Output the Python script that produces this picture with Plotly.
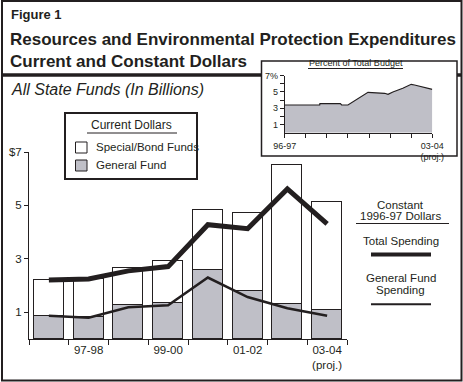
import plotly.graph_objects as go

# ---------------- data ----------------
years = ["96-97", "97-98", "98-99", "99-00", "00-01", "01-02", "02-03", "03-04"]
general_fund_current = [0.85, 0.81, 1.26, 1.35, 2.57, 1.79, 1.30, 1.07]
special_bond_current = [1.35, 1.42, 1.39, 1.56, 2.25, 2.92, 5.20, 4.05]
total_constant = [2.21, 2.25, 2.55, 2.71, 4.28, 4.13, 5.62, 4.31]
general_fund_constant = [0.87, 0.80, 1.19, 1.26, 2.30, 1.57, 1.15, 0.87]

# inset: percent of total budget (position in fiscal years from 96-97)
inset_pos = [0, 1.66, 1.67, 2.64, 2.70, 3.0, 3.95, 4.31, 4.74, 4.90, 5.13, 5.60, 6.0, 6.16, 6.63, 7.0]
inset_pct = [3.40, 3.40, 3.57, 3.57, 3.40, 3.40, 4.96, 4.88, 4.84, 4.71, 5.0, 5.45, 5.94, 5.86, 5.57, 5.33]

main_tick_years = ["97-98", "99-00", "01-02", "03-04"]
main_tick_labels = ["97-98", "99-00", "01-02", "03-04<br>(proj.)"]
y_tick_vals = [1, 3, 5, 7]
y_tick_text = ["1", "3", "5", "$7"]
inset_y_text = ["1", "3", "5", "7%"]

# ---------------- style ----------------
W, H = 463, 382
INK = "#231f20"
GRAY = "#bfbfc7"
FONT = "Liberation Sans, Arial, Helvetica, sans-serif"


def X(px):
    return px / W


def Y(py):
    return 1 - py / H


idx = list(range(len(years)))

fig = go.Figure()
fig.add_bar(x=idx, y=general_fund_current, width=0.76,
            marker=dict(color=GRAY, line=dict(color=INK, width=1)))
fig.add_bar(x=idx, y=special_bond_current, width=0.76,
            marker=dict(color="white", line=dict(color=INK, width=1)))
fig.add_scatter(x=idx, y=total_constant, mode="lines",
                line=dict(color=INK, width=5))
fig.add_scatter(x=idx, y=general_fund_constant, mode="lines",
                line=dict(color=INK, width=2.5))
fig.add_scatter(x=inset_pos, y=inset_pct, mode="lines", fill="tozeroy",
                fillcolor=GRAY, line=dict(color=INK, width=1.2),
                xaxis="x2", yaxis="y2")

tick_pos = [years.index(y) for y in main_tick_years]

shapes = [
    # outer frame
    dict(type="rect", xref="paper", yref="paper", x0=X(2), x1=X(461.5), y0=Y(1), y1=Y(380.5),
         line=dict(color=INK, width=2), layer="below"),
    # thick rule under title
    dict(type="line", xref="paper", yref="paper", x0=X(2), x1=X(461.5), y0=Y(75), y1=Y(75),
         line=dict(color=INK, width=3.5), layer="below"),
    # inset box
    dict(type="rect", xref="paper", yref="paper", x0=X(261.5), x1=X(457), y0=Y(61), y1=Y(156),
         line=dict(color=INK, width=1.5), fillcolor="white", layer="below"),
    # inset title underline
    dict(type="line", xref="paper", yref="paper", x0=X(308), x1=X(403), y0=Y(68.5), y1=Y(68.5),
         line=dict(color=INK, width=1)),
    # legend box
    dict(type="rect", xref="paper", yref="paper", x0=X(65), x1=X(197), y0=Y(113), y1=Y(179),
         line=dict(color=INK, width=2), fillcolor="white"),
    dict(type="line", xref="paper", yref="paper", x0=X(87), x1=X(177), y0=Y(133), y1=Y(133),
         line=dict(color=INK, width=1)),
    dict(type="rect", xref="paper", yref="paper", x0=X(75.5), x1=X(87), y0=Y(142), y1=Y(153),
         line=dict(color=INK, width=1), fillcolor="white"),
    dict(type="rect", xref="paper", yref="paper", x0=X(75.5), x1=X(87), y0=Y(160), y1=Y(171),
         line=dict(color=INK, width=1), fillcolor=GRAY),
    # right legend
    dict(type="line", xref="paper", yref="paper", x0=X(356), x1=X(449), y0=Y(223.5), y1=Y(223.5),
         line=dict(color=INK, width=1)),
    dict(type="line", xref="paper", yref="paper", x0=X(371), x1=X(431), y0=Y(254.5), y1=Y(254.5),
         line=dict(color=INK, width=4)),
    dict(type="line", xref="paper", yref="paper", x0=X(371), x1=X(431), y0=Y(304.3), y1=Y(304.3),
         line=dict(color=INK, width=2)),
]


def ann(text, x, y, size, anchor="left", font=FONT):
    return dict(text=text, x=X(x), y=Y(y), xref="paper", yref="paper",
                xanchor=anchor, yanchor="middle", showarrow=False,
                font=dict(family=font, size=size, color=INK))


annotations = [
    ann("<b>Figure 1</b>", 9, 15, 13),
    ann("<b>Resources and Environmental Protection Expenditures</b>", 8, 39, 17),
    ann("<b>Current and Constant Dollars</b>", 8, 61, 17),
    ann("<i>All State Funds (In Billions)</i>", 9, 89, 16),
    ann("Percent of Total Budget", 355.5, 62.5, 9, "center"),
    ann("Current Dollars", 131.5, 125, 12, "center"),
    ann("Special/Bond Funds", 94, 147, 11.5),
    ann("General Fund", 94, 165, 11.5),
    ann("Constant", 400.5, 205, 11.5, "center"),
    ann("1996-97 Dollars", 400.5, 216, 11.5, "center"),
    ann("Total Spending", 400.5, 241, 11.5, "center"),
    ann("General Fund", 400.5, 278, 11.5, "center"),
    ann("Spending", 400.5, 290, 11.5, "center"),
]

fig.update_layout(
    template="none",
    width=W, height=H, margin=dict(l=0, r=0, t=0, b=0, pad=0, autoexpand=False),
    paper_bgcolor="white", plot_bgcolor="rgba(0,0,0,0)",
    barmode="stack", bargap=0, showlegend=False,
    shapes=shapes, annotations=annotations,
    xaxis=dict(domain=[X(29), X(347)], range=[-0.5, 7.5], anchor="y", automargin=False,
               showline=True, linecolor=INK, linewidth=1, showgrid=False, zeroline=False,
               tickvals=tick_pos, ticktext=main_tick_labels, ticks="",
               minor=dict(tickvals=[i - 0.5 for i in range(len(years) + 1)], ticks="outside",
                          ticklen=5, tickcolor=INK, tickwidth=1, showgrid=False),
               tickfont=dict(family=FONT, size=11.5, color=INK), fixedrange=True),
    yaxis=dict(domain=[Y(339), Y(152)], range=[0, 7], anchor="x", automargin=False,
               showline=True, linecolor=INK, linewidth=1, showgrid=False, zeroline=False,
               tickvals=y_tick_vals, ticktext=y_tick_text, ticks="outside", ticklen=4,
               tickcolor=INK, tickfont=dict(family=FONT, size=11.5, color=INK), fixedrange=True),
    xaxis2=dict(domain=[X(284.7), X(432.3)], range=[0, 7], anchor="y2", automargin=False,
                showline=True, linecolor=INK, linewidth=1, showgrid=False, zeroline=False,
                tickvals=[0, 7], ticktext=["96-97", "03-04<br>(proj.)"], ticks="outside",
                ticklen=4, tickcolor=INK,
                minor=dict(tickvals=[1, 2, 3, 4, 5, 6], ticks="outside", ticklen=4,
                           tickcolor=INK, showgrid=False),
                tickfont=dict(family=FONT, size=9, color=INK), fixedrange=True),
    yaxis2=dict(domain=[Y(132.7), Y(75.7)], range=[0, 7], anchor="x2", automargin=False,
                showline=True, linecolor=INK, linewidth=1, showgrid=False, zeroline=False,
                tickvals=y_tick_vals, ticktext=inset_y_text, ticks="outside", ticklen=4,
                tickcolor=INK,
                minor=dict(tickvals=[2, 4, 6], ticks="outside", ticklen=4,
                           tickcolor=INK, showgrid=False),
                tickfont=dict(family=FONT, size=9, color=INK), fixedrange=True),
)

fig.write_html("out.html", config={"displayModeBar": False},
               post_script="document.body.style.margin='0';document.body.style.overflow='hidden';")
